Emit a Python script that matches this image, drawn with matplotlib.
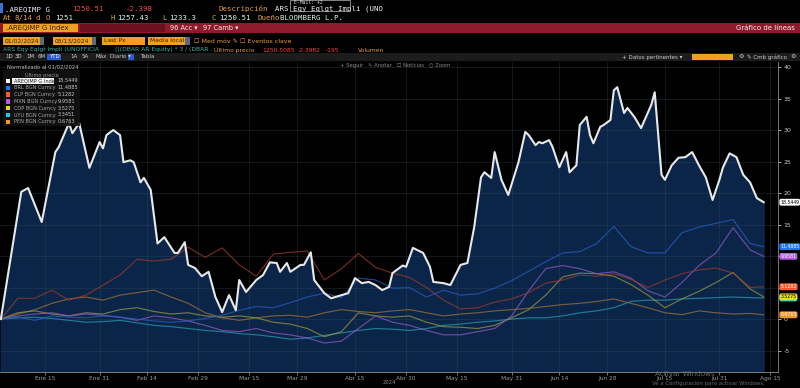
import matplotlib
matplotlib.use("Agg")
import matplotlib.pyplot as plt
import matplotlib.dates as mdates
from matplotlib.patches import Rectangle
from matplotlib.transforms import blended_transform_factory
import pandas as pd

# --- data (percent change since 01/02/2024) ---
start = pd.Timestamp("2024-01-02")

# AREQIMP G Index, read at its turning points (days after Jan 2)
white_day = [0, 6, 8, 12, 16, 17, 20, 21, 23, 26, 29, 30, 31, 33, 35, 36, 38, 39, 41, 42,
             44, 46, 48, 51, 52, 54, 55, 57, 59, 61, 63, 65, 67, 69, 70, 72, 75, 77, 79, 81,
             82, 84, 85, 88, 89, 91, 92, 95, 97, 100, 102, 104, 106, 108, 110, 112, 114, 115, 118, 119,
             121, 124, 126, 127, 130, 132, 135, 137, 139, 141, 142, 144, 145, 147, 149, 152, 154, 155, 157, 158,
             159, 161, 162, 164, 166, 167, 169, 170, 172, 173, 174, 176, 177, 179, 180, 181, 183, 184, 186, 188,
             191, 192, 194, 195, 197, 199, 201, 203, 205, 207, 209, 211, 212, 214, 216, 218, 220, 222, 224]
white_val = [0, 20.2, 20.8, 15.4, 26.5, 27.3, 31.1, 29.5, 31.1, 24.0, 28.1, 27.1, 29.2, 30.0, 29.2, 24.9, 25.2, 24.9, 21.7, 22.4,
             20.5, 12.0, 13.0, 10.5, 10.5, 12.2, 8.6, 8.1, 6.8, 7.5, 3.5, 1.1, 3.8, 1.4, 6.2, 4.3, 6.2, 7.0, 9.0, 8.9,
             7.5, 8.9, 7.5, 8.6, 8.6, 10.6, 6.2, 4.1, 3.3, 3.8, 4.1, 6.5, 5.7, 5.9, 5.4, 4.6, 5.1, 7.3, 8.5, 8.3,
             11.3, 10.5, 8.3, 5.9, 5.7, 5.4, 8.6, 8.9, 14.6, 22.5, 23.3, 22.4, 26.5, 22.1, 19.7, 24.9, 29.7, 29.2, 27.6, 28.1,
             27.9, 28.4, 27.3, 24.1, 26.5, 23.3, 24.4, 30.8, 32.1, 29.2, 27.9, 30.5, 30.8, 31.6, 36.3, 36.8, 32.7, 33.5, 32.1, 30.3,
             34.0, 36.0, 22.9, 22.1, 24.4, 25.6, 25.7, 26.5, 24.4, 22.5, 18.9, 22.1, 24.0, 26.3, 25.7, 22.9, 21.7, 19.2, 18.5449]

# currencies, read every five days
fx_day = [0, 5, 10, 15, 20, 25, 30, 35, 40, 45, 50, 55, 60, 65, 70, 75, 80, 85, 90, 95,
          100, 105, 110, 115, 120, 125, 130, 135, 140, 145, 150, 155, 160, 165, 170, 175, 180, 185, 190, 195,
          200, 205, 210, 215, 220, 224]
brl = [0, 0.3, -0.2, 0.5, 0.3, 0.2, 0.5, 0.3, 0, -0.3, -0.5, -0.3, 0.1, 0.6, 1.4, 2.0, 1.8, 2.6, 3.5, 4.1,
       3.4, 6.5, 6.2, 4.9, 5.0, 3.5, 4.6, 3.8, 4.0, 4.9, 6.1, 7.6, 9.1, 10.5, 10.7, 12.0, 14.7, 11.5, 10.5, 10.5,
       13.7, 14.6, 15.2, 15.8, 12.0, 11.4885]
clp = [0, 3.3, 3.3, 4.6, 3.0, 3.8, 5.4, 7.0, 9.5, 9.2, 9.5, 11.4, 9.8, 11.3, 8.6, 6.8, 10.3, 10.6, 10.8, 6.2,
       8.0, 10.4, 8.2, 7.3, 6.6, 5.0, 3.0, 1.6, 1.8, 2.7, 3.2, 4.2, 5.7, 6.2, 7.0, 6.8, 7.2, 6.3, 5.0, 6.2,
       7.2, 7.8, 8.1, 7.3, 5.0, 5.1282]
mxn = [0, 0.5, 0.8, 1.0, 0.5, 0.8, 0.6, 0.3, -0.2, 0.5, 0.2, -0.3, -1.0, -1.8, -2.0, -1.5, -2.2, -2.5, -3.0, -3.8,
       -3.5, -1.5, 0.5, -0.5, -1.0, -1.8, -2.5, -2.5, -2.0, -1.5, 0.5, 4.5, 8.0, 8.5, 8.0, 7.2, 7.5, 6.5, 4.5, 3.5,
       5.8, 8.5, 10.5, 14.5, 11.0, 9.9581]
cop = [0, 1.0, 1.3, 0.8, 0.5, 1.0, 0.8, 1.5, 1.8, 1.2, 0.8, 1.0, 0.5, 0.3, 0.5, 0.2, -0.5, -0.8, -1.5, -2.8,
       -2.0, 1.0, 0.5, 0.3, 0.5, -0.5, -1.2, -1.3, -1.5, -1.0, 0.2, 1.5, 3.8, 6.7, 7.3, 7.2, 6.8, 5.5, 3.8, 1.8,
       3.2, 4.4, 5.8, 7.4, 4.8, 3.5275]
uyu = [0, 0.2, 0.3, 0.1, -0.2, -0.5, -0.4, -0.2, -0.6, -1.0, -1.2, -1.5, -1.8, -2.0, -2.3, -2.5, -2.8, -3.2, -3.0, -2.6,
       -2.2, -1.8, -1.5, -1.6, -1.8, -1.5, -1.0, -0.8, -0.5, -0.3, 0.0, 0.2, 0.2, 0.5, 1.0, 1.3, 1.8, 2.8, 3.0, 3.0,
       3.2, 3.3, 3.4, 3.5, 3.4, 3.3451]
pen = [0, 0.8, 1.5, 2.5, 3.2, 3.5, 3.0, 3.8, 4.2, 4.6, 3.5, 2.5, 1.0, 0.2, -0.2, 0.2, 0.5, 0.6, 0.3, 1.0,
       1.5, 1.2, 1.0, 1.3, 1.5, 1.0, 0.5, 0.8, 1.0, 1.3, 1.5, 1.7, 2.0, 2.3, 2.5, 2.8, 3.2, 2.5, 1.8, 1.0,
       0.7, 1.3, 1.0, 0.8, 0.9, 0.6763]

names = ["AREQIMP G Index", "BRL BGN Curncy", "CLP BGN Curncy", "MXN BGN Curncy",
         "COP BGN Curncy", "UYU BGN Curncy", "PEN BGN Curncy"]
last = ["18.5449", "11.4885", "5.1282", "9.9581", "3.5275", "3.3451", "0.6763"]
y_ticks = [-5, 0, 5, 10, 15, 20, 25, 30, 35, 40]
y_text = ["-5", "0", "", "", "15", "20", "25", "30", "35", "40"]  # 5 and 10 sit under the flags
tick_dates = ["2024-01-15", "2024-01-31", "2024-02-14", "2024-02-29", "2024-03-15", "2024-03-29",
              "2024-04-15", "2024-04-30", "2024-05-15", "2024-05-31", "2024-06-14", "2024-06-28",
              "2024-07-15", "2024-07-31", "2024-08-15"]
tick_text = ["Ene 15", "Ene 31", "Feb 14", "Feb 29", "Mar 15", "Mar 29", "Abr 15", "Abr 30",
             "May 15", "May 31", "Jun 14", "Jun 28", "Jul 15", "Jul 31", "Ago 15"]

line_cols = ["#e8e8e8", "#2a5cc0", "#9a3a2c", "#9058c0", "#98963c", "#2a98b0", "#a07038"]
box_cols = ["#ffffff", "#1e78ff", "#ff5a28", "#b45ae6", "#e6dc1e", "#1ec8e6", "#f09628"]

W, H = 800, 388
fig = plt.figure(figsize=(8, 3.88), dpi=100, facecolor="black")


def fx(x):
    return x / W


def fy(y):
    return 1 - y / H


def ftext(x, y, s, color="#d0d0d0", size=5, **kw):
    fig.text(fx(x), fy(y), s, color=color, fontsize=size, va="center", **kw)


def fbox(x0, y0, x1, y1, color, **kw):
    fig.patches.append(Rectangle((fx(x0), fy(y1)), fx(x1 - x0), (y1 - y0) / H,
                                 transform=fig.transFigure, facecolor=color, edgecolor="none", **kw))


# --- plot ---
ax = fig.add_axes([0, 16 / H, 778 / W, (372 - 62) / H], facecolor="black")
wd = start + pd.to_timedelta(white_day, unit="D")
fd = start + pd.to_timedelta(fx_day, unit="D")

ax.fill_between(wd, white_val, -20, color="#0a2548", zorder=1)
series = [brl, clp, mxn, cop, uyu, pen]
for vals, col in zip(series[::-1], line_cols[1:][::-1]):
    ax.plot(fd, vals, color=col, lw=0.85, alpha=0.75, zorder=3)
ax.plot(wd, white_val, color=line_cols[0], lw=1.5, zorder=4)

ax.set_ylim(-8.4, 40.8)
ax.set_xlim(mdates.date2num(pd.Timestamp("2024-01-01 18:00")),
            mdates.date2num(pd.Timestamp("2024-08-17 05:00")))
ax.set_yticks(y_ticks)
ax.set_yticklabels(y_text)
ax.set_xticks(pd.to_datetime(tick_dates))
ax.set_xticklabels(tick_text)
ax.yaxis.tick_right()
ax.grid(True, color="#3a4a5e", lw=0.5, alpha=0.45, zorder=2)
ax.tick_params(axis="x", colors="#9a9a9a", labelsize=4.2, length=2, width=0.5, pad=1)
ax.tick_params(axis="y", colors="#c8c8c8", labelsize=4.5, length=2, width=0.6, pad=2)
for s in ["top", "left"]:
    ax.spines[s].set_visible(False)
ax.spines["right"].set_color("#8a8a8a")
ax.spines["right"].set_linewidth(0.6)
ax.spines["bottom"].set_color("#8a8a8a")
ax.spines["bottom"].set_linewidth(0.6)

# value flags on the right axis
trans = blended_transform_factory(ax.transAxes, ax.transData)
order = [0, 1, 3, 5, 4, 6, 2]
for i in order:
    val = float(last[i])
    tc = "black" if i in (0, 4, 5) else "white"
    ax.text(1.003, val, last[i], transform=trans, fontsize=3.3, color=tc, va="center", ha="left",
            zorder=10, clip_on=False,
            bbox=dict(boxstyle="round,pad=0.2,rounding_size=0.4", fc=box_cols[i], ec="none"))

# --- header ---
fbox(0, 3, 3, 13, "#3a6fd8")
mono = "DejaVu Sans Mono"
ftext(5, 9, ".AREQIMP G", "#f0f0f0", 5.3, family=mono)
ftext(72, 9, "1250.51", "#ff4646", 5.3, family=mono)
ftext(126, 9, "-2.398", "#ff4646", 5.3, family=mono)
ftext(218, 9, "Descripción", "#e8a040", 5.3, family=mono)
ftext(275, 9, "ARS Eqy Eqlgt Impli (UNO", "#f0f0f0", 5.3, family=mono)
fig.patches.append(Rectangle((fx(290), fy(11)), fx(60), 11 / H, transform=fig.transFigure,
                             facecolor="none", edgecolor="#9a9a9a", lw=0.6))
ftext(294, 2.6, "E-Mail: +2", "#e0e0e0", 3.4, family=mono)

row2 = [(3, "At", "#e8a040"), (14, "8/14", "#e8a040"), (35, "d", "#e8a040"), (46, "O", "#e8a040"),
        (55, "1251", "#f0f0f0"), (110, "H", "#e8a040"), (117, "1257.43", "#f0f0f0"),
        (162, "L", "#e8a040"), (169, "1233.3", "#f0f0f0"), (211, "C", "#e8a040"),
        (219, "1250.51", "#f0f0f0"), (258, "Dueño", "#e8a040"), (280, "BLOOMBERG L.P.", "#f0f0f0")]
for x, s, c in row2:
    ftext(x, 18, s, c, 5.3, family=mono)

fbox(0, 23, 800, 33, "#8e1a2c")
fbox(3, 24, 78, 32, "#f0a020")
ftext(6, 28, ".AREQIMP G Index", "#3a2000", 5)
fbox(80, 24, 165, 32, "#6c1020")
ftext(170, 28, "96 Acc ▾", "#f0f0f0", 4.8)
ftext(203, 28, "97 Camb ▾", "#f0f0f0", 4.8)
ftext(795, 28, "Gráfico de líneas", "#f0f0f0", 5, ha="right")

for x0, x1, s in [(3, 40, "01/02/2024"), (53, 92, "08/13/2024"), (102, 145, "Last Px"),
                  (148, 185, "Media local")]:
    fbox(x0, 37, x1, 45, "#f0a020")
    ftext(x0 + 2, 41, s, "#3a2000", 4.3)
fbox(40, 37, 44, 45, "#5a6a80")
fbox(92, 37, 96, 45, "#5a6a80")
fbox(185, 37, 190, 45, "#5a6a80")
ftext(194, 41, "☐ Med móv ✎", "#e8a040", 4.5)
ftext(240, 41, "☐ Eventos clave", "#e8a040", 4.5)

ftext(3, 50, "ARS Eqy Eqlgt Impli (UNOFFICIA", "#3ab8a8", 4.3)
ftext(115, 50, "(((DBAR AR Equity) * 3 / (DBAR .", "#3ab8a8", 4.3)
ftext(214, 50, "Último precio", "#e8a040", 4.3)
ftext(262, 50, "1250.5085", "#ff4646", 4.3)
ftext(298, 50, "-2.3982", "#ff4646", 4.3)
ftext(326, 50, "-195", "#ff4646", 4.3)
ftext(358, 50, "Volumen", "#e8a040", 4.3)

fbox(0, 53, 800, 61, "#1c1c1c")
for x, s in [(5, "1D"), (15, "3D"), (26, "1M"), (38, "6M"), (70, "1A"), (82, "5A"),
             (95, "Máx"), (110, "Diario ▾"), (140, "Tabla")]:
    ftext(x, 57, s, "#cfcfcf", 4.0)
fbox(47, 54, 61, 60, "#2a5ad0")
ftext(49, 57, "YTD", "#ffffff", 4.0)
fbox(128, 54, 134, 60, "#2a5ad0")
ftext(622, 57, "+ Datos pertinentes ▾", "#cfcfcf", 4.0)
fbox(692, 54, 733, 60, "#f0a020")
ftext(738, 57, "⚙", "#cfcfcf", 4.5)
ftext(747, 57, "✎ Cmb gráfico", "#cfcfcf", 4.0)
ftext(790, 57, "⚙", "#cfcfcf", 4.5)
ftext(340, 65, "+ Seguir   ✎ Anotar   ☐ Noticias   ○ Zoom", "#8a8a8a", 3.8)

# legend block
fbox(3, 70, 80, 126, "#121212", alpha=0.9)
ftext(7, 67, "Normalizado al 01/02/2024", "#bdbdbd", 3.8)
ftext(25, 75, "Último precio", "#9a9a9a", 3.6)
for k, (nm, v, c) in enumerate(zip(names, last, box_cols)):
    y = 81 + k * 6.8
    fbox(6, y - 2.2, 10, y + 2.2, c)
    if k == 0:
        fbox(12, y - 2.8, 54, y + 2.8, "#f4f4f4")
        ftext(14, y, nm, "#202020", 3.6)
    else:
        ftext(14, y, nm, "#a8a8a8", 3.6)
    ftext(58, y, v, "#c8c8c8", 3.6)

ftext(383, 383, "2024", "#8a8a8a", 3.8)
ftext(655, 374, "Activar Windows", "#6a6a6a", 5.2)
ftext(652, 383, "Ve a Configuración para activar Windows.", "#6a6a6a", 3.9)

fig.savefig("out.png", dpi=100, facecolor="black")
